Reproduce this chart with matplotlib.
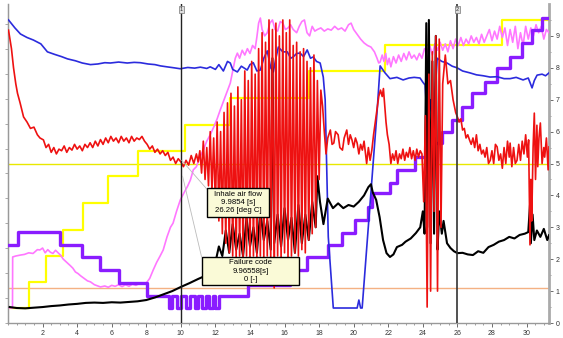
import numpy as np
import matplotlib.pyplot as plt
from matplotlib.patches import Rectangle

plt.rcParams['font.family'] = ['Liberation Sans', 'DejaVu Sans']

# ---- data (time [s], value on right scale) ----
yellow_t = [0.1, 1.24, 2.17, 3.2, 4.36, 5.8, 7.55, 10.26, 12.86, 17.4, 21.8, 28.6, 31.3]
yellow_v = [0.47, 1.28, 2.1, 2.92, 3.76, 4.6, 5.4, 6.2, 7.05, 7.9, 8.7, 9.5, 9.5]

purple_t = [0, 0.6, 3.0, 4.3, 5.35, 6.4, 8.05, 9.3, 9.5, 9.75, 10.0, 10.3, 10.55, 10.8,
            11.0, 11.2, 11.45, 11.65, 11.85, 12.0, 12.2, 13.9, 16.3, 17.3, 18.5, 19.3,
            20.1, 20.8, 21.07, 22.1, 22.5, 23.55, 24.25, 25.1, 25.69, 26.27, 26.85,
            27.6, 28.3, 29.05, 29.74, 30.32, 30.9, 31.3]
purple_v = [2.44, 2.84, 2.44, 2.06, 1.66, 1.25, 0.85, 0.47, 0.85, 0.47, 0.85, 0.47, 0.85, 0.47,
            0.85, 0.47, 0.85, 0.47, 0.85, 0.47, 0.85, 1.2, 1.66, 2.07, 2.44, 2.82,
            3.23, 3.64, 4.08, 4.39, 4.8, 5.2, 5.64, 6.0, 6.36, 6.77, 7.2,
            7.55, 7.99, 8.34, 8.78, 9.18, 9.56, 9.56]

blue_t = [0.03, 0.4, 0.72, 1.1, 1.47, 1.9, 2.28, 2.7, 3.1, 3.44, 3.9, 4.3, 4.77, 5.2, 5.6,
          5.92, 6.4, 6.9, 7.3, 7.66, 8.1, 8.5, 8.82, 9.2, 9.6, 9.97, 10.4, 10.8, 11.13,
          11.5, 11.7, 12.0, 12.2, 12.46, 12.7, 12.86, 13.0, 13.27, 13.5, 13.84, 14.0,
          14.19, 14.4, 14.6, 14.8, 15.0, 15.2, 15.35, 15.5, 15.64, 15.9, 16.16, 16.35,
          16.5, 16.7, 16.9, 17.1, 17.31, 17.5, 17.66, 17.85, 18.06, 18.24, 18.35, 18.53,
          18.82, 20.2, 20.3, 20.4, 20.49, 21.36, 21.53, 21.8, 22.1, 22.5, 22.86, 23.2,
          23.5, 23.84, 24.0, 24.13, 24.3, 24.45, 24.6, 24.83, 25.1, 25.4, 25.7, 25.98,
          26.3, 26.73, 27.1, 27.5, 27.89, 28.3, 28.7, 29.05, 29.4, 29.8, 30.1, 30.32,
          30.45, 30.61, 30.9, 31.1, 31.3]
blue_v = [9.5, 9.25, 9.06, 8.95, 8.87, 8.75, 8.5, 8.42, 8.35, 8.28, 8.22, 8.15, 8.1, 8.12, 8.16,
          8.15, 8.18, 8.15, 8.17, 8.16, 8.12, 8.1, 8.06, 8.03, 8.0, 7.97, 8.01, 7.99, 8.02,
          7.98, 8.03, 7.95, 8.1, 7.9, 8.2, 8.15, 7.95, 7.87, 8.05, 7.93, 8.1,
          8.16, 7.9, 7.93, 8.3, 8.53, 8.0, 7.87, 8.3, 8.65, 8.5, 8.5, 8.3,
          8.34, 8.45, 8.46, 8.35, 8.56, 8.3, 8.34, 8.2, 8.15, 7.71, 7.0, 2.7,
          0.47, 0.47, 0.72, 0.47, 0.47, 6.68, 8.06, 7.85, 7.66, 7.7, 7.62, 7.68,
          7.7, 7.68, 7.55, 7.46, 6.0, 7.0, 6.2, 8.3, 8.2, 8.15, 8.05, 8.0,
          7.9, 7.84, 7.78, 7.75, 7.71, 7.72, 7.66, 7.66, 7.7, 7.62, 7.68, 7.37,
          7.6, 7.77, 7.8, 7.75, 7.84]

pink_t = [0.1, 0.26, 0.27, 0.45, 0.72, 0.95, 1.2, 1.45, 1.7, 1.85, 2.0, 2.15, 2.3, 2.45, 2.6,
          2.75, 2.9, 3.05, 3.2, 3.44, 3.6, 3.75, 3.9, 4.05, 4.2, 4.4, 4.6, 4.77, 5.0, 5.2,
          5.35, 5.6, 5.8, 6.0, 6.2, 6.4, 6.6, 6.8, 7.0, 7.2, 7.4, 7.6, 7.84, 8.0, 8.2, 8.4,
          8.6, 8.8, 8.98, 9.2, 9.4, 9.55, 9.75, 9.97, 10.2, 10.4, 10.55, 10.72, 10.9, 11.1,
          11.3, 11.5, 11.7, 11.9, 12.1, 12.28, 12.5, 12.7, 12.86, 13.0, 13.15, 13.27, 13.4,
          13.55, 13.7, 13.85, 14.0, 14.15, 14.3, 14.4, 14.5, 14.6, 14.7, 14.85, 15.0, 15.15,
          15.3, 15.45, 15.6, 15.75, 15.9, 16.05, 16.2, 16.35, 16.5, 16.7, 16.85, 17.0, 17.15,
          17.3, 17.45, 17.6, 17.75, 17.9, 18.1, 18.3, 18.5, 18.7, 18.9, 19.1, 19.3, 19.5,
          19.7, 19.85, 20.0, 20.2, 20.4, 20.6, 20.8, 21.0, 21.2, 21.35, 21.45, 21.53, 21.65,
          21.75, 21.85, 21.95, 22.05, 22.15, 22.3, 22.45, 22.6, 22.75, 22.9, 23.05, 23.2,
          23.35, 23.5, 23.65, 23.8, 23.95, 24.1, 24.25, 24.4, 24.55, 24.7, 24.85, 25.0,
          25.15, 25.3, 25.45, 25.6, 25.75, 25.9, 26.05, 26.2, 26.35, 26.5, 26.65, 26.8,
          26.95, 27.1, 27.25, 27.4, 27.55, 27.7, 27.85, 28.0, 28.15, 28.3, 28.45, 28.6,
          28.75, 28.9, 29.05, 29.2, 29.35, 29.5, 29.65, 29.8, 29.95, 30.1, 30.25, 30.4,
          30.55, 30.7, 30.85, 31.0, 31.15, 31.3]
pink_v = [0.47, 0.47, 2.07, 2.1, 2.13, 2.15, 2.2, 2.18, 2.3, 2.29, 2.35, 2.2, 2.3, 2.22, 2.18,
          2.28, 2.2, 2.12, 2.0, 1.88, 1.8, 1.72, 1.6, 1.55, 1.48, 1.4, 1.32, 1.29, 1.2, 1.16,
          1.13, 1.16, 1.12, 1.18, 1.15, 1.2, 1.14, 1.2, 1.15, 1.22, 1.18, 1.24, 1.25, 1.25, 1.4, 1.66,
          1.9, 2.1, 2.29, 2.7, 3.0, 3.13, 3.5, 3.86, 4.1, 4.3, 4.48, 4.8, 4.9, 5.2,
          5.42, 5.7, 5.9, 6.14, 6.4, 6.68, 7.0, 7.3, 7.52, 7.9, 8.3, 8.46, 8.3,
          8.55, 8.4, 8.6, 8.45, 8.7, 8.6, 8.97, 9.4, 9.56, 9.2, 9.0, 9.1, 9.4,
          9.5, 9.2, 9.15, 9.45, 9.4, 9.2, 9.25, 9.35, 9.2, 9.1, 9.3, 9.45, 9.5,
          9.1, 9.0, 9.3, 9.15, 9.2, 9.25, 9.15, 9.22, 9.18, 9.3, 9.2, 9.25, 9.15,
          9.35, 9.4, 9.2, 9.05, 8.9, 8.78, 8.7, 8.65, 8.5, 8.3, 8.15, 8.18, 8.4,
          8.2, 8.45, 8.1, 8.3, 8.03, 8.35, 8.15, 8.4, 8.2, 8.45, 8.25, 8.5,
          8.3, 8.4, 8.25, 8.45, 8.3, 8.6, 8.5, 8.7, 8.4, 8.75, 8.55, 8.8,
          8.55, 8.75, 8.5, 8.85, 8.6, 8.9, 8.7, 8.95, 8.7, 8.9, 8.75, 9.0,
          8.8, 8.95, 8.75, 9.05, 8.8, 9.0, 9.2, 8.85, 9.15, 8.9, 9.3, 8.95,
          9.25, 8.7, 9.2, 8.8, 9.3, 8.6, 9.1, 8.7, 9.3, 8.9, 9.25, 9.0,
          9.35, 9.1, 9.3, 8.9, 9.2, 9.1]

red_t = [0.03, 0.2, 0.32, 0.45, 0.55, 0.7, 0.9, 1.1, 1.3, 1.5, 1.7, 1.85, 2.05, 2.2, 2.35,
         2.5, 2.65, 2.8, 2.95, 3.1, 3.25, 3.4, 3.55, 3.7, 3.85, 4.0, 4.15, 4.3, 4.45, 4.6,
         4.75, 4.9, 5.05, 5.2, 5.35, 5.5, 5.65, 5.8, 5.95, 6.1, 6.25, 6.4, 6.55, 6.7, 6.85,
         7.0, 7.15, 7.3, 7.45, 7.6, 7.75, 7.9, 8.05, 8.2, 8.35, 8.5, 8.65, 8.8, 8.95, 9.1,
         9.25, 9.4, 9.55, 9.7, 9.85, 10.0, 10.15, 10.3, 10.45, 10.6, 10.75, 10.9, 11.0,
         11.1, 11.2, 11.3, 11.4, 11.5, 11.6, 11.7, 11.8, 11.9, 12.0, 12.1, 12.2, 12.3, 12.4,
         12.5, 12.6, 12.7, 12.8, 12.9, 13.0, 13.1, 13.2, 13.3, 13.4, 13.5, 13.6, 13.7, 13.8,
         13.9, 14.0, 14.1, 14.2, 14.3, 14.4, 14.5, 14.6, 14.7, 14.8, 14.9, 15.0, 15.1, 15.2,
         15.3, 15.4, 15.5, 15.6, 15.7, 15.8, 15.9, 16.0, 16.1, 16.2, 16.3, 16.4, 16.5, 16.6,
         16.7, 16.8, 16.9, 17.0, 17.1, 17.2, 17.3, 17.4, 17.5, 17.6, 17.7, 17.8, 17.9, 18.0,
         18.1, 18.2, 18.3, 18.4, 18.5, 18.65, 18.75, 18.85, 18.95, 19.1, 19.2, 19.35, 19.45,
         19.6, 19.7, 19.8, 19.9, 20.0, 20.1, 20.2, 20.3, 20.4, 20.5, 20.6, 20.75, 20.85,
         20.95, 21.05, 21.15, 21.25, 21.35, 21.45, 21.55, 21.65, 21.72, 21.8, 21.87, 21.95,
         22.05, 22.15, 22.25, 22.35, 22.45, 22.55, 22.65, 22.75, 22.85, 22.95, 23.05, 23.15,
         23.25, 23.35, 23.45, 23.55, 23.65, 23.75, 23.85, 23.95, 24.05, 24.15, 24.25, 24.35,
         24.45, 24.55, 24.65, 24.75, 24.85, 24.95, 25.05, 25.15, 25.3, 25.45, 25.6, 25.75,
         25.9, 26.0, 26.1, 26.2, 26.3, 26.4, 26.5, 26.6, 26.7, 26.8, 26.9, 27.0, 27.1, 27.2,
         27.3, 27.4, 27.5, 27.6, 27.7, 27.8, 27.9, 28.0, 28.1, 28.2, 28.3, 28.4, 28.5, 28.6,
         28.7, 28.8, 28.9, 29.0, 29.05, 29.15, 29.25, 29.35, 29.45, 29.55, 29.65, 29.75,
         29.85, 29.95, 30.05, 30.12, 30.2, 30.25, 30.3, 30.38, 30.45, 30.52, 30.6, 30.65,
         30.72, 30.8, 30.9, 31.0, 31.05, 31.15, 31.25, 31.3]
red_v = [9.18, 8.6, 8.0, 7.5, 7.2, 6.9, 6.46, 6.3, 6.1, 6.14, 5.9, 5.8, 5.74, 5.5, 5.6,
         5.35, 5.5, 5.3, 5.45, 5.4, 5.55, 5.35, 5.5, 5.42, 5.6, 5.45, 5.55, 5.4, 5.6, 5.5,
         5.65, 5.5, 5.7, 5.55, 5.75, 5.6, 5.8, 5.65, 5.85, 5.7, 5.8, 5.65, 5.85, 5.7, 5.8,
         5.65, 5.85, 5.7, 5.8, 5.75, 5.85, 5.7, 5.6, 5.45, 5.55, 5.35, 5.45, 5.3, 5.4, 5.25,
         5.35, 5.1, 5.2, 5.0, 5.15, 5.05, 4.9, 5.1, 4.95, 5.25, 5.0, 5.3, 5.05,
         5.4, 4.7, 5.7, 4.5, 5.5, 4.3, 6.0, 4.1, 5.8, 3.6, 6.3, 3.2, 6.0, 2.8,
         6.6, 2.5, 6.9, 2.2, 7.2, 2.1, 6.8, 2.0, 7.4, 2.1, 7.0, 2.0, 7.9, 2.1,
         7.6, 2.0, 8.2, 2.1, 7.8, 2.0, 8.6, 2.1, 9.1, 2.0, 8.8, 2.1, 9.5, 2.0,
         9.2, 1.1, 9.4, 2.1, 9.0, 2.0, 9.5, 2.2, 9.1, 2.0, 9.5, 2.1, 8.7, 2.2,
         8.8, 2.1, 8.5, 2.3, 8.6, 2.2, 8.2, 2.6, 8.0, 2.8, 8.4, 3.0, 7.6, 4.5,
         7.3, 6.8, 6.0, 5.3, 5.8, 6.05, 5.6, 5.64, 6.0, 5.9, 5.5, 5.42, 5.8,
         6.05, 5.6, 5.9, 5.74, 5.5, 5.8, 5.64, 5.3, 5.6, 5.42, 5.7, 5.0, 5.5,
         5.1, 5.42, 5.9, 6.3, 6.7, 7.1, 7.3, 7.1, 7.35, 6.8, 6.3, 5.9,
         5.6, 5.0, 5.3, 5.1, 5.4, 5.0, 5.3, 5.15, 5.45, 5.1, 5.35, 5.2,
         5.5, 5.15, 5.4, 5.1, 5.45, 5.2, 5.4, 5.3, 3.8, 6.5, 0.5, 7.8,
         1.0, 8.5, 3.5, 9.0, 1.0, 8.9, 3.0, 7.5, 8.4, 7.5, 7.6, 7.0,
         6.6, 6.46, 6.3, 6.4, 6.05, 6.1, 5.8, 5.9, 5.74, 5.6, 5.8, 5.5, 5.9, 5.4,
         5.6, 5.3, 5.42, 5.2, 5.5, 5.0, 5.1, 5.4, 5.0, 5.6, 5.52, 5.1, 5.3, 4.85,
         5.5, 5.0, 5.7, 5.2, 5.64, 4.9, 5.5, 5.0, 5.1, 5.6, 5.1, 5.7,
         5.3, 5.9, 5.2, 5.74, 2.45, 4.5, 3.2, 5.5, 6.58, 4.5, 6.2, 4.9,
         5.8, 6.27, 5.0, 5.5, 5.2, 5.8, 4.8, 5.52]

black_t = [0.1, 0.5, 1.0, 1.5, 2.0, 2.5, 3.0, 3.5, 4.0, 4.5, 5.0, 5.5, 6.0, 6.5, 7.0, 7.5,
           8.0, 8.5, 9.0, 9.5, 10.0, 10.5, 11.0, 11.5, 12.0, 12.2, 12.4, 12.6, 12.8, 13.0,
           13.2, 13.4, 13.6, 13.8, 14.0, 14.2, 14.4, 14.6, 14.8, 15.0, 15.2, 15.3, 15.4,
           15.6, 15.8, 16.0, 16.2, 16.4, 16.6, 16.8, 17.0, 17.2, 17.4, 17.6, 17.8, 17.9,
           18.05, 18.25, 18.5, 18.8, 19.1, 19.4, 19.7, 20.0, 20.3, 20.6, 20.85, 21.0, 21.1,
           21.3, 21.5, 21.7, 21.9, 22.1, 22.3, 22.5, 22.8, 23.0, 23.3, 23.6, 23.85, 24.0,
           24.1, 24.2, 24.25, 24.35, 24.45, 24.55, 24.65, 24.75, 24.85, 24.95, 25.1, 25.2,
           25.4, 25.6, 25.8, 26.0, 26.3, 26.6, 26.9, 27.2, 27.5, 27.8, 28.1, 28.4, 28.7,
           29.0, 29.3, 29.6, 29.9, 30.1, 30.2, 30.25, 30.35, 30.45, 30.6, 30.8, 31.0,
           31.2, 31.3]
black_v = [0.5, 0.47, 0.46, 0.48, 0.5, 0.53, 0.55, 0.58, 0.6, 0.63, 0.64, 0.63, 0.65, 0.64,
           0.66, 0.68, 0.72, 0.8, 0.9, 1.0, 1.13, 1.25, 1.38, 1.5, 1.9, 2.4, 2.1, 2.9, 2.2,
           3.1, 2.3, 2.8, 2.1, 3.3, 2.4, 3.0, 2.2, 3.5, 2.6, 3.2, 2.3, 8.3, 2.5,
           3.4, 2.4, 3.6, 2.6, 3.3, 2.2, 3.7, 2.5, 3.4, 2.6, 3.8, 3.0, 4.6,
           3.8, 3.1, 3.9, 3.6, 3.75, 3.6, 3.7, 3.65, 3.8, 4.0, 4.26, 4.35, 4.1,
           3.86, 3.32, 2.6, 2.19, 2.07, 2.15, 2.38, 2.45, 2.55, 2.65, 2.82, 3.0, 3.5,
           2.8, 9.4, 3.0, 9.5, 2.5, 8.2, 2.8, 9.0, 2.3, 3.5, 2.8, 3.2,
           2.5, 2.35, 2.25, 2.19, 2.2, 2.15, 2.13, 2.25, 2.2, 2.38, 2.45, 2.55, 2.6,
           2.7, 2.65, 2.76, 2.8, 2.85, 3.7, 2.5, 3.4, 2.6, 2.9, 2.7, 2.95,
           2.6, 2.75]

yellow_limit = 5.0
orange_limit = 1.1
cursor_1 = 9.985
cursor_2 = 25.95

# ---- figure ----
fig = plt.figure(figsize=(5.63, 3.38), dpi=100)
ax = fig.add_axes([8 / 563, 15 / 338, 541 / 563, 319 / 338])

ax.axhline(yellow_limit, color='#E8E800', lw=1.0, zorder=1)
ax.axhline(orange_limit, color='#F4B183', lw=1.0, zorder=1)

ax.plot(yellow_t, yellow_v, drawstyle='steps-post', color='#FFFF00', lw=1.6, zorder=2)
ax.plot(pink_t, pink_v, color='#FF77FF', lw=1.2, zorder=3)
ax.plot(purple_t, purple_v, drawstyle='steps-post', color='#8A1CFF', lw=2.4, zorder=4)
ax.plot(blue_t, blue_v, color='#2B2BDD', lw=1.2, zorder=5)
ax.plot(black_t, black_v, color='black', lw=1.5, zorder=6)
ax.plot(red_t, red_v, color='#EE1111', lw=1.2, zorder=7)

# cursors
ax.axvline(cursor_1, color='#222222', lw=1.0, zorder=8)
ax.axvline(cursor_2, color='#333333', lw=1.2, zorder=8)
for cx, lab in [(cursor_1, '1'), (cursor_2, '2')]:
    ax.text(cx + 0.05, 9.9, lab, fontsize=4, ha='center', va='top', color='#333333',
            bbox=dict(boxstyle='square,pad=0.15', fc='#DDDDDD', ec='#777777', lw=0.5), zorder=12)

# leader lines to the readout boxes
ax.plot([10.05, 11.5], [5.1, 4.2], color='#BBBBBB', lw=0.6, zorder=9)
ax.plot([10.1, 11.2], [4.6, 2.07], color='#BBBBBB', lw=0.6, zorder=9)

# readout boxes
ax.add_patch(Rectangle((11.49, 3.32), 3.63, 0.91, fc='#FAFAD7', ec='black', lw=1.0, zorder=10))
ax.text(13.3, 3.775, 'Inhale air flow\n9.9854 [s]\n26.26 [deg C]', fontsize=5.6,
        ha='center', va='center', linespacing=1.25, zorder=11)
ax.add_patch(Rectangle((11.2, 1.19), 5.65, 0.88, fc='#FAFAD7', ec='black', lw=1.0, zorder=10))
ax.text(14.03, 1.63, 'Failure code\n9.96558[s]\n0 [-]', fontsize=5.6,
        ha='center', va='center', linespacing=1.25, zorder=11)

# axes
ax.set_xlim(0, 31.3)
ax.set_ylim(0, 10.0)
ax.set_xticks(np.arange(2, 31, 2))
ax.set_xticks(np.arange(0, 31.3, 0.5), minor=True)
ax.set_yticks(np.arange(0, 10, 1))
ax.set_yticks(np.arange(0, 10, 0.5), minor=True)
ax.yaxis.tick_right()
ax.tick_params(axis='both', labelsize=5, colors='#555555', labelcolor='#333333',
               length=3, width=0.6, pad=2)
ax.tick_params(which='minor', length=1.5, width=0.5, colors='#777777')
ax.spines['top'].set_visible(False)
for side in ['left', 'bottom']:
    ax.spines[side].set_color('#999999')
    ax.spines[side].set_linewidth(1.0)
ax.spines['right'].set_color('#AAAAAA')
ax.spines['right'].set_linewidth(2.0)

left_ax = ax.secondary_yaxis('left', functions=(lambda v: v * 1.28, lambda u: u / 1.28))
left_ax.set_yticks(np.arange(0, 13, 1))
left_ax.tick_params(labelleft=False, length=2, width=0.5, colors='#888888')
left_ax.spines['left'].set_color('#999999')

fig.savefig('out.png', dpi=100)
